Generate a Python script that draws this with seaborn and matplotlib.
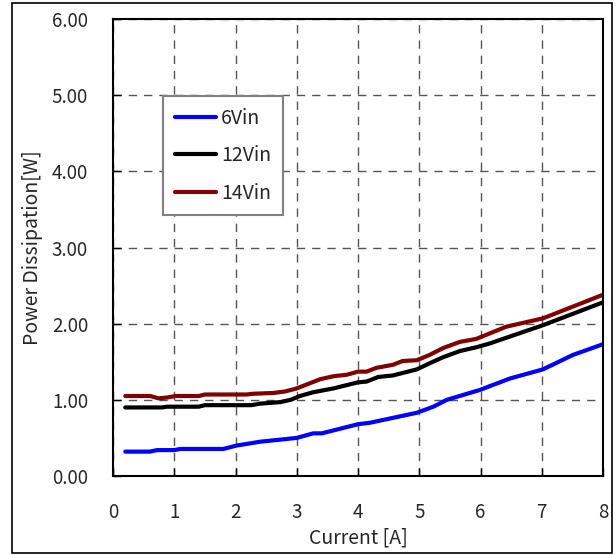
import matplotlib
matplotlib.use("Agg")
import matplotlib.pyplot as plt
import seaborn as sns
import pandas as pd
from matplotlib.patches import Rectangle

# ---- data ----
x_6v = [0.2, 0.6, 0.72, 1.0, 1.1, 1.8, 2.02, 2.4, 3.0, 3.27, 3.41, 4.0, 4.2, 4.96, 5.23, 5.45, 5.99, 6.48, 7.02, 7.51, 8.0]
y_6v = [0.32, 0.32, 0.34, 0.34, 0.355, 0.355, 0.40, 0.45, 0.50, 0.56, 0.56, 0.68, 0.70, 0.83, 0.91, 1.00, 1.13, 1.28, 1.40, 1.59, 1.73]

x_12v = [0.2, 0.8, 0.88, 1.4, 1.5, 2.26, 2.4, 2.73, 2.9, 3.05, 3.27, 3.6, 4.0, 4.14, 4.33, 4.57, 4.96, 5.17, 5.39, 5.66, 5.93, 6.15, 7.02, 8.0]
y_12v = [0.90, 0.90, 0.91, 0.91, 0.93, 0.93, 0.95, 0.97, 1.00, 1.05, 1.10, 1.15, 1.23, 1.24, 1.30, 1.32, 1.40, 1.48, 1.56, 1.64, 1.69, 1.74, 1.98, 2.28]

x_14v = [0.2, 0.61, 0.74, 0.88, 1.02, 1.4, 1.5, 2.18, 2.29, 2.62, 2.81, 3.0, 3.19, 3.38, 3.6, 3.82, 4.0, 4.14, 4.3, 4.57, 4.73, 4.96, 5.17, 5.39, 5.66, 5.93, 6.42, 7.02, 8.0]
y_14v = [1.05, 1.05, 1.02, 1.03, 1.05, 1.05, 1.07, 1.07, 1.08, 1.09, 1.11, 1.15, 1.21, 1.27, 1.31, 1.33, 1.37, 1.37, 1.42, 1.46, 1.51, 1.52, 1.59, 1.68, 1.76, 1.80, 1.96, 2.07, 2.38]

series_names = ["6Vin", "12Vin", "14Vin"]
series_colors = ["#0000FF", "#000000", "#800000"]
x_ticks = [0, 1, 2, 3, 4, 5, 6, 7, 8]
y_ticks = [0, 1, 2, 3, 4, 5, 6]
y_tick_labels = ["0.00", "1.00", "2.00", "3.00", "4.00", "5.00", "6.00"]

frames = []
for name, xs, ys in zip(series_names, [x_6v, x_12v, x_14v], [y_6v, y_12v, y_14v]):
    frames.append(pd.DataFrame({"Current": xs, "Power": ys, "Series": name}))
df = pd.concat(frames, ignore_index=True)

sns.set_theme(style="white")
plt.rcParams['font.family'] = ['Noto Sans CJK JP', 'DejaVu Sans']

fig = plt.figure(figsize=(6.16, 5.55), dpi=100)
ax = fig.add_axes([113/616, 1 - 476/555, (603-113)/616, (476-19)/555])

sns.lineplot(data=df, x="Current", y="Power", hue="Series", hue_order=series_names,
             palette=dict(zip(series_names, series_colors)), linewidth=3,
             sort=False, estimator=None, ax=ax)

ax.set_xlim(0, 8)
ax.set_ylim(0, 6)
ax.set_xticks(x_ticks)
ax.set_yticks(y_ticks)
ax.set_yticklabels(y_tick_labels)
ax.grid(True, which="major", linestyle=(0, (6, 5)), color="#555555", linewidth=1)
ax.tick_params(direction="in", length=6, width=1, color="black", labelsize=13.5,
               pad=18, left=True, bottom=True)
ax.tick_params(axis="x", pad=19)
for s in ax.spines.values():
    s.set_visible(True)
    s.set_color("black")
    s.set_linewidth(1.5)

ax.set_xlabel("Current [A]", fontsize=14, labelpad=3)
ax.set_ylabel("Power Dissipation[W]", fontsize=14, labelpad=6)

leg = ax.legend(loc="upper left", bbox_to_anchor=((163-113)/490, (476-96)/457),
                frameon=True, fancybox=False, edgecolor="#808080", framealpha=1,
                fontsize=14, handlelength=2.1, handletextpad=0.3, labelspacing=0.85,
                borderpad=0.6, borderaxespad=0)
leg.get_frame().set_linewidth(1.5)

fig.patches.append(Rectangle((12/616, 2/555), (612-12)/616, (552-2)/555,
                             transform=fig.transFigure, fill=False,
                             edgecolor="black", linewidth=1.2))

fig.savefig("out.png", dpi=100)
